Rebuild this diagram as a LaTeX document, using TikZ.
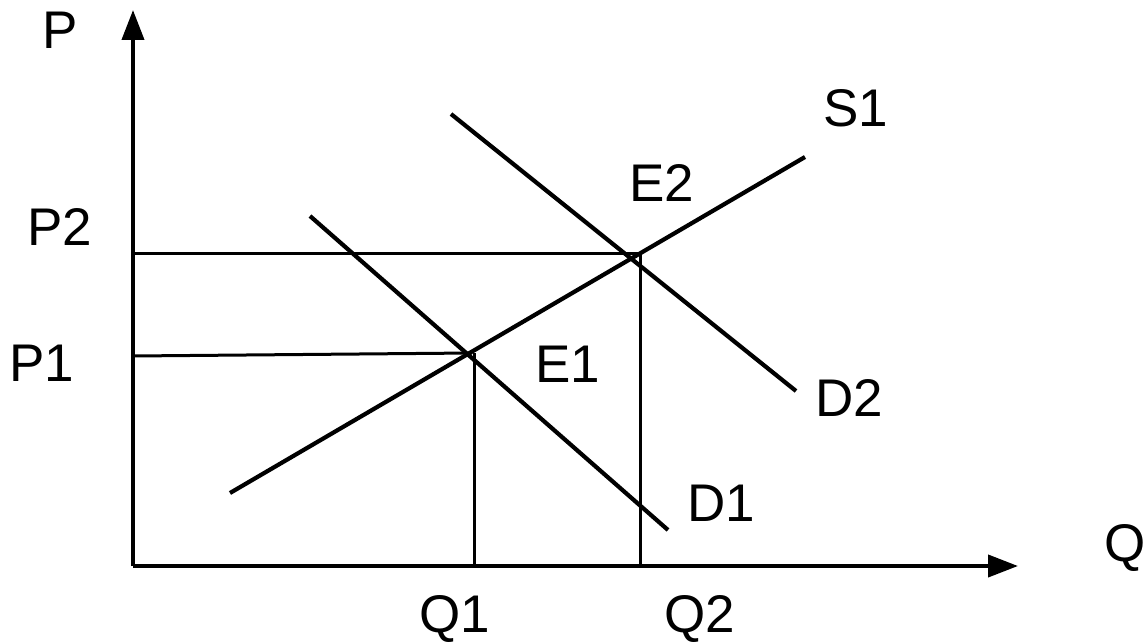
\documentclass[tikz,border=0pt]{standalone}
\usepackage{fontspec}
\setmainfont{Liberation Sans}
\usetikzlibrary{arrows.meta}
\begin{document}
\begin{tikzpicture}[x=1pt,y=-1pt,
  axis/.style={line width=4pt,-{Triangle[length=30pt,width=22pt]}},
  curve/.style={line width=4.2pt},
  guide/.style={line width=3pt},
  lbl/.style={inner sep=0pt,font=\fontsize{53}{60}\selectfont}]
\useasboundingbox (0,0) rectangle (1145,642);
% axes
\coordinate (O) at (133,566);
\coordinate (Ptop) at (133,10);
\coordinate (Qend) at (1018,566);
\draw[axis] (O) -- (Ptop);
\draw[axis] (O) -- (Qend);
% curves
\coordinate (s1a) at (230,493);
\coordinate (s1b) at (805,157);
\coordinate (d1a) at (310,216);
\coordinate (d1b) at (668,530);
\coordinate (d2a) at (451,114);
\coordinate (d2b) at (796,391);
\draw[curve] (s1a) -- (s1b);
\draw[curve] (d1a) -- (d1b);
\draw[curve] (d2a) -- (d2b);
% equilibrium guides
\coordinate (p1l) at (133,356);
\coordinate (e1) at (472,353);
\coordinate (q1) at (474,566);
\coordinate (q1t) at (474,353);
\coordinate (p2l) at (133,253);
\coordinate (e2) at (640,253);
\coordinate (q2) at (640,566);
\draw[guide] (p1l) -- (e1);
\draw[guide] (q1t) -- (q1);
\draw[guide] (p2l) -- (e2) -- (q2);
% labels
\node[lbl] (lP) at (60,30) {P};
\node[lbl] (lP2) at (60,227) {P2};
\node[lbl] (lP1) at (42,363) {P1};
\node[lbl,anchor=west] (lQ) at (1104,548) {Q};
\node[lbl] (lQ1) at (455,619) {Q1};
\node[lbl] (lQ2) at (700,619) {Q2};
\node[lbl] (lS1) at (856,108) {S1};
\node[lbl] (lE2) at (662,183) {E2};
\node[lbl] (lE1) at (568,364) {E1};
\node[lbl] (lD2) at (849,398) {D2};
\node[lbl] (lD1) at (721,503) {D1};
\end{tikzpicture}
\end{document}
